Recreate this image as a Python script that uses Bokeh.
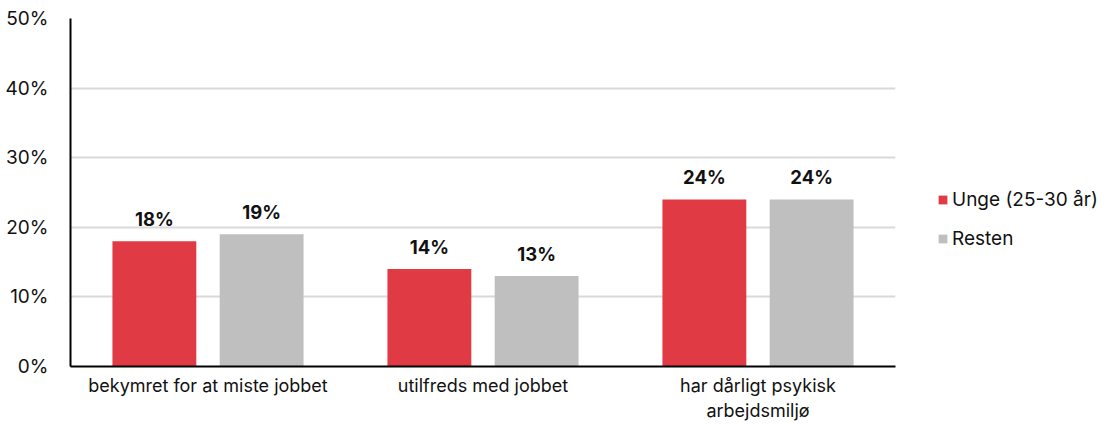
from bokeh.plotting import figure
from bokeh.models import ColumnDataSource, Legend, LegendItem, FixedTicker, Range1d, LabelSet
from bokeh.core.properties import value
from bokeh.embed import file_html
from bokeh.resources import INLINE

categories = ["bekymret for at miste jobbet", "utilfreds med jobbet", "har dårligt psykisk\narbejdsmiljø"]
series_names = ["Unge (25-30 år)", "Resten"]
unge = [18, 14, 24]
resten = [19, 13, 24]
y_ticks = [0, 10, 20, 30, 40, 50]
colors = ["#e03a44", "#bfbfbf"]

FONT = "Inter"
BFONT = "Inter"
p = figure(frame_width=825, frame_height=348, output_backend="svg", toolbar_location=None,
           x_range=Range1d(0, 3), y_range=Range1d(0, 50),
           min_border_left=70, min_border_right=0, min_border_top=18, min_border_bottom=59)
p.outline_line_color = None
p.background_fill_color = "white"

centers = [i + 0.5 for i in range(len(categories))]
off = 0.195
w = 0.305
src_u = ColumnDataSource(dict(x=[c - off for c in centers], y=unge, lab=[f"{v}%" for v in unge]))
src_r = ColumnDataSource(dict(x=[c + off for c in centers], y=resten, lab=[f"{v}%" for v in resten]))
r1 = p.vbar(x="x", top="y", width=w, source=src_u, fill_color=colors[0], line_color=None)
r2 = p.vbar(x="x", top="y", width=w, source=src_r, fill_color=colors[1], line_color=None)

for s in (src_u, src_r):
    p.add_layout(LabelSet(x="x", y="y", text="lab", source=s, text_align="center", text_baseline="bottom",
                          y_offset=11, text_font=value(BFONT), text_font_style="bold", text_font_size="18.5px",
                          text_color="#111111"))

p.xaxis.ticker = FixedTicker(ticks=centers)
p.xaxis.major_label_overrides = {c: lab for c, lab in zip(centers, categories)}
p.xaxis.major_tick_line_color = None
p.xaxis.minor_tick_line_color = None
p.xaxis.axis_line_color = "black"
p.xaxis.axis_line_width = 2
p.xaxis.major_label_text_font = FONT
p.xaxis.major_label_text_font_size = "18px"
p.xaxis.major_label_text_color = "#111111"
p.xaxis.major_label_standoff = 2

p.yaxis.ticker = FixedTicker(ticks=y_ticks)
p.yaxis.major_label_overrides = {t: f"{t}%" for t in y_ticks}
p.yaxis.major_tick_line_color = None
p.yaxis.minor_tick_line_color = None
p.yaxis.axis_line_color = "black"
p.yaxis.axis_line_width = 2
p.yaxis.major_label_text_font = FONT
p.yaxis.major_label_text_font_size = "19px"
p.yaxis.major_label_text_color = "#111111"
p.yaxis.major_label_standoff = 16

p.xgrid.grid_line_color = None
p.ygrid.grid_line_color = "#d9d9d9"
p.ygrid.grid_line_width = 2

legend = Legend(items=[LegendItem(label=series_names[0], renderers=[r1]),
                       LegendItem(label=series_names[1], renderers=[r2])],
                location=(42, 116), border_line_color=None, background_fill_alpha=0,
                label_text_font=FONT, label_text_font_size="19px", label_text_color="#111111",
                glyph_width=11, glyph_height=11, label_standoff=4, spacing=16, padding=0,
                margin=0)
p.add_layout(legend, "right")

open("out.html", "w").write(file_html(p, INLINE))
